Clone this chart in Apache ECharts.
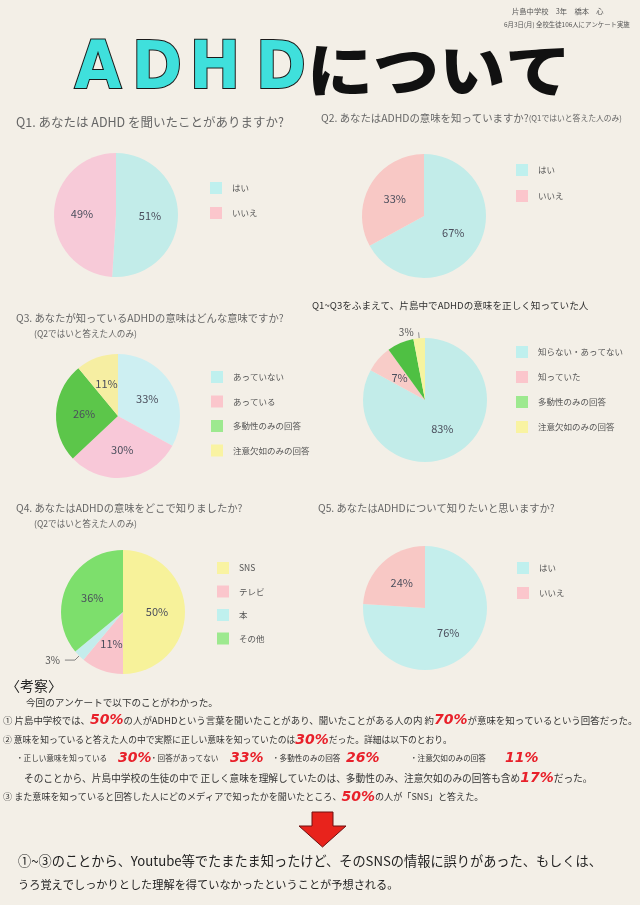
<!DOCTYPE html>
<html>
<head>
<meta charset="utf-8">
<script src="https://cdn.jsdelivr.net/npm/echarts@6/dist/echarts.min.js"></script>
<style>
html,body{margin:0;padding:0;background:#f3efe7;}
#c{width:640px;height:905px;}
</style>
</head>
<body>
<div id="c"></div>
<script>
// ---- data ----
const yesNoLabels = ['はい', 'いいえ'];
const q1Values = [51, 49];
const q2Values = [67, 33];
const q3Labels = ['あっていない', 'あっている', '多動性のみの回答', '注意欠如のみの回答'];
const q3Values = [33, 30, 26, 11];
const q13Labels = ['知らない・あってない', '知っていた', '多動性のみの回答', '注意欠如のみの回答'];
const q13Values = [83, 7, 7, 3];
const q4Labels = ['SNS', 'テレビ', '本', 'その他'];
const q4Values = [50, 11, 3, 36];
const q5Values = [76, 24];

// ---- styling ----
const FONT = '"Noto Sans CJK JP", "Noto Sans", sans-serif';
const C_CYAN = '#c2ece9', C_PINK = '#f7cad8', C_SALMON = '#f8c8c5';
const C_GREEN = '#5cc64a', C_YELLOW = '#f6eea2';
const L_CYAN = '#bff0ee', L_PINK = '#fbc6cc', L_GREEN = '#9de98f', L_YELLOW = '#f9f3a2';

function pie(center, names, values, colors, extra) {
  return Object.assign({
    type: 'pie',
    center: center,
    radius: 62,
    startAngle: 90,
    clockwise: true,
    animation: false,
    avoidLabelOverlap: false,
    label: {
      show: true, position: 'inside', formatter: '{c}%',
      fontFamily: FONT, fontSize: 11, color: '#4b4e5c'
    },
    labelLine: { show: false },
    emphasis: { disabled: true },
    itemStyle: { borderWidth: 0 },
    data: names.map((n, i) => ({ name: n, value: values[i], itemStyle: { color: colors[i] } }))
  }, extra || {});
}

function legend(left, top, names, colors, gap) {
  return {
    orient: 'vertical', left: left, top: top,
    itemWidth: 12, itemHeight: 12, itemGap: gap, icon: 'rect',
    selectedMode: false,
    textStyle: { fontFamily: FONT, fontSize: 8.5, color: '#555', padding: [0, 0, 0, 5] },
    data: names.map((n, i) => ({ name: n, itemStyle: { color: colors[i] } }))
  };
}

function T(x, y, text, size, color, extra) {
  return {
    type: 'text', x: x, y: y, silent: true,
    style: Object.assign({
      text: text, fill: color || '#444', fontSize: size, fontFamily: FONT,
      verticalAlign: 'middle', align: 'left'
    }, extra || {})
  };
}
const RED = { r: { fill: '#e8202a', fontSize: 14, fontWeight: 'bold', fontStyle: 'italic', fontFamily: 'DejaVu Sans' } };
function TITLE_LETTER(cx, ch) {
  return {
    type: 'text', x: cx, y: 71, scaleX: 0.92, silent: true,
    style: { text: ch, fill: '#3fe0dc', stroke: '#1a1a1a', lineWidth: 2.2,
      fontSize: 66, fontFamily: 'DejaVu Sans', fontWeight: 'bold', align: 'center', verticalAlign: 'middle' }
  };
}

const q13Series = pie([425, 400], q13Labels, q13Values, [C_CYAN, '#f8ccc8', '#4fc043', '#f6f4a0']);
q13Series.data[3].label = { position: 'outside', color: '#555', fontSize: 10 };
q13Series.data[3].labelLine = { show: true, length: 6, length2: 0, lineStyle: { color: '#777', width: 0.8 } };
const q4Series = pie([123, 612], q4Labels, q4Values, ['#f7f29a', '#f9c4cb', '#c4ecec', '#7ddf6c']);
q4Series.data[2].label = { position: 'outside', color: '#555', fontSize: 10 };
q4Series.data[2].labelLine = { show: true, length: 6, length2: 10, lineStyle: { color: '#666', width: 0.8 } };

const option = {
  backgroundColor: '#f3efe7',
  animation: false,
  legend: [
    legend(205, 177, yesNoLabels, [L_CYAN, L_PINK], 13),
    legend(511, 159, yesNoLabels, [L_CYAN, L_PINK], 14),
    legend(206, 366, q3Labels, [L_CYAN, L_PINK, L_GREEN, L_YELLOW], 12.5),
    legend(511, 341, q13Labels, [L_CYAN, L_PINK, L_GREEN, L_YELLOW], 13),
    legend(212, 557, q4Labels, [L_YELLOW, L_PINK, L_CYAN, L_GREEN], 11.5),
    legend(512, 557, yesNoLabels, [L_CYAN, L_PINK], 13)
  ],
  series: [
    pie([116, 215], yesNoLabels, q1Values, [C_CYAN, C_PINK]),
    pie([424, 216], yesNoLabels, q2Values, [C_CYAN, C_SALMON]),
    pie([118, 416], q3Labels, q3Values, ['#cdeff2', '#f8c8d8', C_GREEN, C_YELLOW]),
    q13Series,
    q4Series,
    pie([425, 608], yesNoLabels, q5Values, ['#c4eeec', C_SALMON])
  ],
  graphic: [
    // header
    T(512, 11, '片島中学校　3年　橋本　心', 7.3, '#555'),
    T(504, 25, '6月3日(月) 全校生徒106人にアンケート実施', 6.4, '#555'),
    // title
    TITLE_LETTER(98, 'A'),
    TITLE_LETTER(157, 'D'),
    TITLE_LETTER(215, 'H'),
    TITLE_LETTER(281, 'D'),
    { type: 'text', x: 307, y: 70, scaleX: 1.14, silent: true,
      style: { text: 'について', fill: '#111', fontSize: 58, fontFamily: FONT, fontWeight: 900, verticalAlign: 'middle', align: 'left' } },
    // question titles
    T(16, 122, 'Q1. あなたは ADHD を聞いたことがありますか?', 12.5, '#666'),
    T(321, 118, 'Q2. あなたはADHDの意味を知っていますか?{s|(Q1ではいと答えた人のみ)}', 10.4, '#666', { rich: { s: { fontSize: 7.8, fill: '#666', fontFamily: FONT } } }),
    T(16, 318, 'Q3. あなたが知っているADHDの意味はどんな意味ですか?', 10.3, '#666'),
    T(34, 334, '(Q2ではいと答えた人のみ)', 8.6, '#666'),
    T(312, 305, 'Q1~Q3をふまえて、片島中でADHDの意味を正しく知っていた人', 9.6, '#333'),
    T(16, 508, 'Q4. あなたはADHDの意味をどこで知りましたか?', 10.3, '#666'),
    T(34, 524, '(Q2ではいと答えた人のみ)', 8.6, '#666'),
    T(318, 508, 'Q5. あなたはADHDについて知りたいと思いますか?', 10.3, '#666'),
    // discussion
    T(6, 686, '〈考察〉', 14, '#222'),
    T(26, 702, '今回のアンケートで以下のことがわかった。', 9.6, '#333'),
    T(3, 720, '① 片島中学校では、{r|50%}の人がADHDという言葉を聞いたことがあり、聞いたことがある人の内 約{r|70%}が意味を知っているという回答だった。', 9.45, '#333', { rich: RED }),
    T(3, 740, '② 意味を知っていると答えた人の中で実際に正しい意味を知っていたのは{r|30%}だった。詳細は以下のとおり。', 8.8, '#333', { rich: RED }),
    T(16, 758, '・正しい意味を知っている', 7.6, '#333'),
    T(118, 758, '{r|30%}', 8, '#333', { rich: RED }),
    T(150, 758, '・回答があってない', 7.6, '#333'),
    T(230, 758, '{r|33%}', 8, '#333', { rich: RED }),
    T(272, 758, '・多動性のみの回答', 7.6, '#333'),
    T(346, 758, '{r|26%}', 8, '#333', { rich: RED }),
    T(410, 758, '・注意欠如のみの回答', 7.6, '#333'),
    T(505, 758, '{r|11%}', 8, '#333', { rich: RED }),
    T(24, 778, 'そのことから、片島中学校の生徒の中で 正しく意味を理解していたのは、多動性のみ、注意欠如のみの回答も含め{r|17%}だった。', 9.7, '#333', { rich: RED }),
    T(3, 797, '③ また意味を知っていると回答した人にどのメディアで知ったかを聞いたところ、{r|50%}の人が「SNS」と答えた。', 9.1, '#333', { rich: RED }),
    // arrow
    {
      type: 'polygon', silent: true,
      shape: { points: [[312, 812], [333, 812], [333, 826], [346, 826], [322.5, 847], [299, 826], [312, 826]] },
      style: { fill: '#e8231c', stroke: '#6e1010', lineWidth: 1 }
    },
    // conclusion
    T(18, 861, '①~③のことから、Youtube等でたまたま知ったけど、そのSNSの情報に誤りがあった、もしくは、', 13.2, '#222'),
    T(18, 885, 'うろ覚えでしっかりとした理解を得ていなかったということが予想される。', 11.2, '#222')
  ]
};

const chart = echarts.init(document.getElementById('c'), null, { renderer: 'canvas' });
chart.setOption(option);
</script>
</body>
</html>
